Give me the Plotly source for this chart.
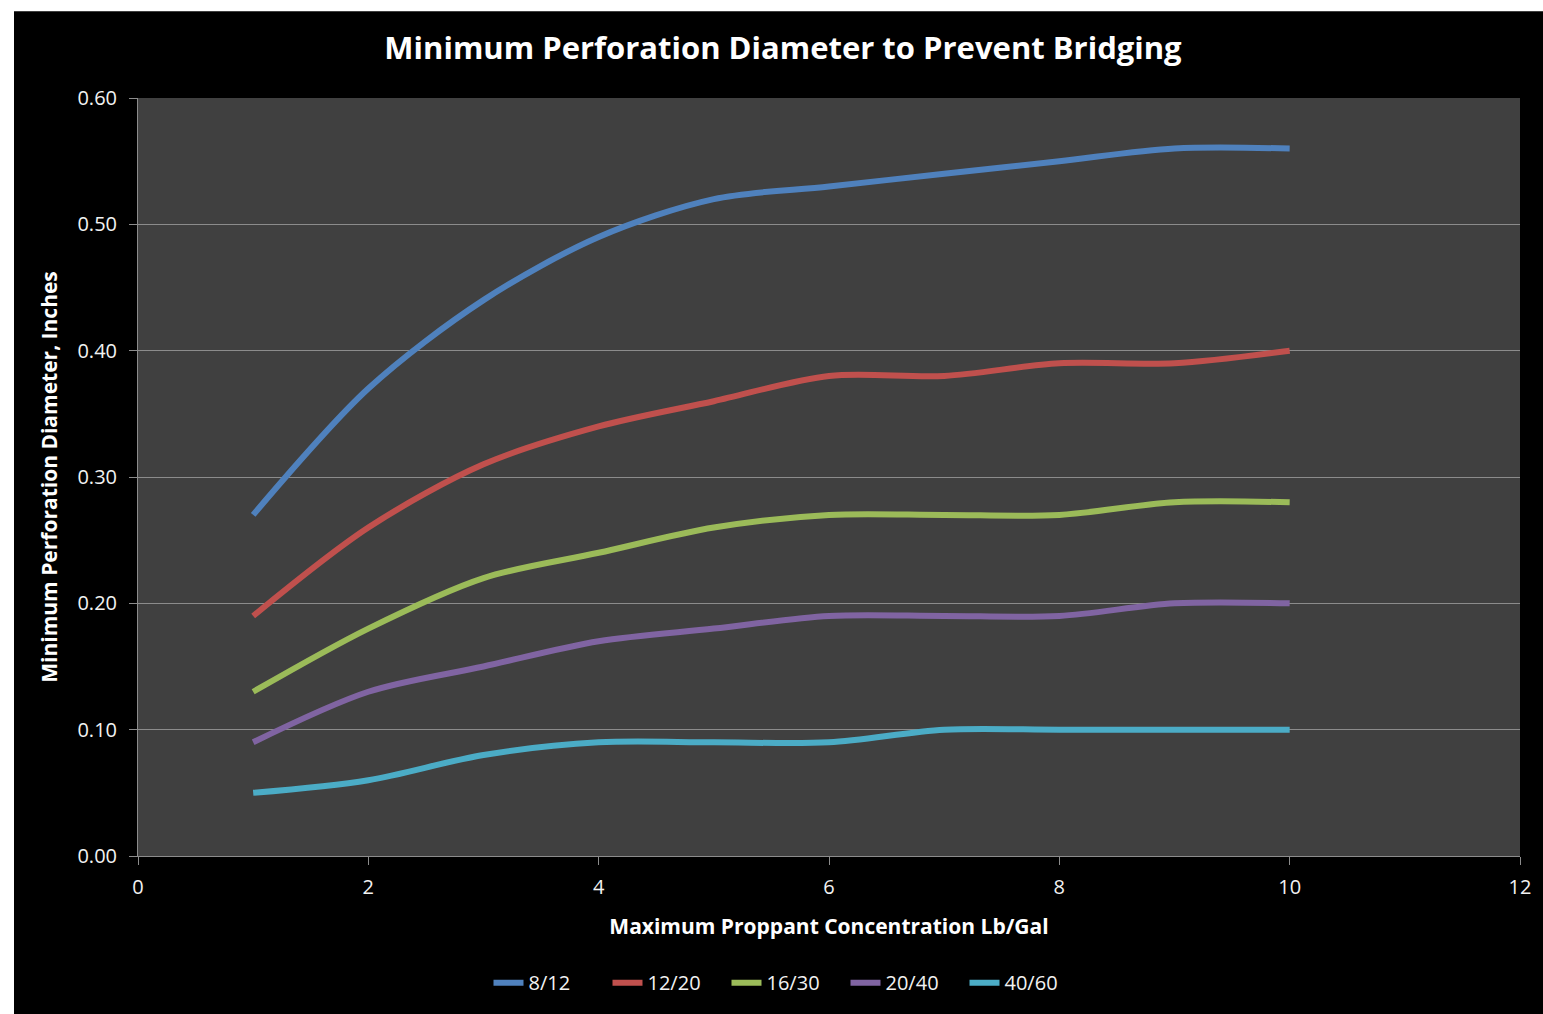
import plotly.graph_objects as go

# Proppant concentration (lb/gal)
concentration = [1, 2, 3, 4, 5, 6, 7, 8, 9, 10]

# Minimum perforation diameter (inches) per sand mesh size
mesh_labels = ["8/12", "12/20", "16/30", "20/40", "40/60"]
dia_8_12 = [0.27, 0.37, 0.44, 0.49, 0.52, 0.53, 0.54, 0.55, 0.56, 0.56]
dia_12_20 = [0.19, 0.26, 0.31, 0.34, 0.36, 0.38, 0.38, 0.39, 0.39, 0.40]
dia_16_30 = [0.13, 0.18, 0.22, 0.24, 0.26, 0.27, 0.27, 0.27, 0.28, 0.28]
dia_20_40 = [0.09, 0.13, 0.15, 0.17, 0.18, 0.19, 0.19, 0.19, 0.20, 0.20]
dia_40_60 = [0.05, 0.06, 0.08, 0.09, 0.09, 0.09, 0.10, 0.10, 0.10, 0.10]

series = [dia_8_12, dia_12_20, dia_16_30, dia_20_40, dia_40_60]
colors = ["#4F81BD", "#C0504D", "#9BBB59", "#8064A2", "#4BACC6"]

W, H = 1543, 1014
L, R, T, B = 138, 23, 98, 156
pw, ph = W - L - R, H - T - B

fig = go.Figure()
for name, ys, c in zip(mesh_labels, series, colors):
    fig.add_trace(go.Scatter(
        x=concentration, y=ys, name=name, mode="lines",
        line=dict(color=c, width=6, shape="spline", smoothing=0.9),
    ))

FONT = "Open Sans"
TXT = "#F2F2F2"

# black chart panel with a thin white frame on the left/top, then the grey plot area
fig.add_shape(type="rect", xref="paper", yref="paper", layer="below",
              x0=(14 - L) / pw, x1=(W + 10 - L) / pw,
              y0=(T + ph - (H + 10)) / ph, y1=(T + ph - 11) / ph,
              fillcolor="black", line=dict(width=0))
fig.add_shape(type="rect", xref="paper", yref="paper", layer="below",
              x0=0, x1=1, y0=0, y1=1, fillcolor="#404040", line=dict(width=0))

fig.update_layout(
    width=W, height=H,
    margin=dict(l=L, r=R, t=T, b=B),
    paper_bgcolor="white", plot_bgcolor="#404040",
    font=dict(family=FONT, color=TXT, size=19),
    title=dict(text="<b>Minimum Perforation Diameter to Prevent Bridging</b>",
               x=783 / W, xanchor="center", y=1 - 48 / H, yanchor="middle",
               font=dict(size=31, color="white", family=FONT)),
    showlegend=True,
    legend=dict(orientation="h", x=(786 - L) / pw, xanchor="center",
                y=-(985 - (T + ph)) / ph, yanchor="middle",
                font=dict(size=20, color=TXT, family=FONT),
                entrywidth=74, entrywidthmode="pixels",
                bgcolor="rgba(0,0,0,0)", itemwidth=30, tracegroupgap=0),
    xaxis=dict(range=[0, 12], dtick=2, tick0=0, showgrid=False, zeroline=False,
               showline=True, linecolor="#8C8C8C", linewidth=1,
               ticks="outside", ticklen=8, tickcolor="#8C8C8C",
               ticklabelstandoff=5,
               tickfont=dict(size=20, color=TXT),
               title=dict(text="<b>Maximum Proppant Concentration Lb/Gal</b>",
                          font=dict(size=21, color="white"), standoff=20)),
    yaxis=dict(range=[0, 0.6], dtick=0.1, tick0=0, tickformat=".2f",
               showgrid=True, gridcolor="#8C8C8C", gridwidth=1, zeroline=False,
               showline=True, linecolor="#8C8C8C", linewidth=1,
               ticks="outside", ticklen=8, tickcolor="#8C8C8C",
               ticklabelstandoff=8,
               tickfont=dict(size=20, color=TXT),
               title=dict(text="<b>Minimum Perforation Diameter, Inches</b>",
                          font=dict(size=21, color="white"), standoff=14)),
)

fig.write_html("out.html")
